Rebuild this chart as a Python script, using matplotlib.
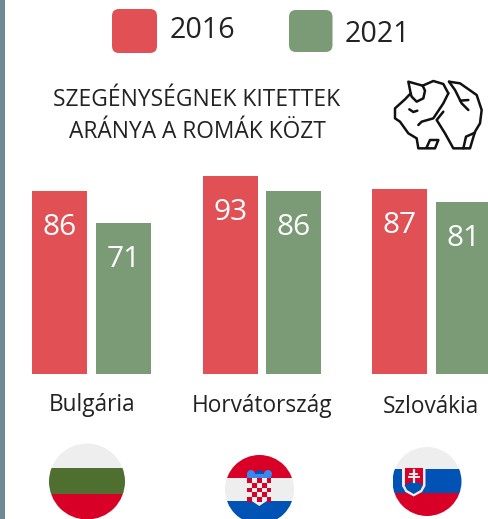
import matplotlib
matplotlib.use('Agg')
import matplotlib.pyplot as plt
from matplotlib.patches import Circle, FancyBboxPatch, Rectangle, Polygon

# Chart data
countries = ['Bulgária', 'Horvátország', 'Szlovákia']
values_2016 = [86, 93, 87]
values_2021 = [71, 86, 81]
series_names = ['2016', '2021']
title_lines = ['SZEGÉNYSÉGNEK KITETTEK', 'ARÁNYA A ROMÁK KÖZT']

RED = '#E15055'
GREEN = '#7A9B76'
TEXT = '#222222'
W, H = 489, 519

plt.rcParams['font.family'] = ['Open Sans', 'DejaVu Sans']

fig = plt.figure(figsize=(W / 100, H / 100), dpi=100)

# Pixel coordinate overlay for everything that isn't a bar
deco = fig.add_axes([0, 0, 1, 1])
deco.set_xlim(0, W)
deco.set_ylim(H, 0)
deco.axis('off')

# Bars, one data unit is about 2.128 px
ax = fig.add_axes([0, (H - 374) / H, 1, 212.8 / H])
ax.set_xlim(0, W)
ax.set_ylim(0, 100)
ax.axis('off')
ax.patch.set_alpha(0)

lefts_2016 = [32, 203, 372]
lefts_2021 = [96, 266, 436]
bar_w = 55
bars_a = ax.bar(lefts_2016, values_2016, width=bar_w, align='edge', color=RED)
bars_b = ax.bar(lefts_2021, values_2021, width=bar_w, align='edge', color=GREEN)
for bars in (bars_a, bars_b):
    ax.bar_label(bars, padding=-37, color='white', fontsize=21.5)

# Left strip
deco.add_patch(Rectangle((0, 0), 5, H, color='#6F8A92', lw=0))

# Legend
deco.add_patch(FancyBboxPatch((116, 13), 37, 36, boxstyle='round,pad=4,rounding_size=7', fc=RED, ec='none'))
deco.add_patch(FancyBboxPatch((293, 14), 35.5, 34, boxstyle='round,pad=4,rounding_size=7', fc=GREEN, ec='none'))
deco.text(170, 38, series_names[0], fontsize=20.6, color=TEXT, va='baseline')
deco.text(345, 42, series_names[1], fontsize=20.6, color=TEXT, va='baseline')

# Title
deco.text(197, 106, title_lines[0], fontsize=16.4, color=TEXT, ha='center', va='baseline')
deco.text(197, 138, title_lines[1], fontsize=16.4, color=TEXT, ha='center', va='baseline')

# Country names
for name, cx, base in zip(countries, [92.5, 262, 430.5], [411, 412, 413]):
    deco.text(cx, base, name, fontsize=16.3, color=TEXT, ha='center', va='baseline')


# Piggy bank icon, points taken from a 3x crop
def pig_line(points):
    xs = [380 + p[0] / 3 for p in points]
    ys = [70 + p[1] / 3 for p in points]
    deco.plot(xs, ys, color='#111111', lw=1.8, solid_joinstyle='round', solid_capstyle='round')


pig_line([(205, 70), (190, 42), (160, 33), (128, 47)])
pig_line([(128, 47), (85, 35), (92, 70), (75, 88), (45, 115), (45, 145), (60, 155), (85, 190), (110, 205),
          (115, 235), (165, 235), (175, 210), (150, 210), (140, 232)])
pig_line([(128, 47), (135, 62), (130, 85), (110, 95), (95, 80), (92, 70)])
pig_line([(88, 118), (100, 126), (112, 122)])
pig_line([(205, 70), (190, 100), (160, 145), (125, 155), (115, 165)])
pig_line([(207, 35), (240, 40), (290, 75), (305, 120), (300, 160), (285, 185), (270, 235), (220, 235),
          (195, 190), (170, 150), (190, 125)])
pig_line([(207, 35), (225, 60), (245, 100), (265, 120)])
pig_line([(240, 92), (265, 90)])
pig_line([(250, 235), (258, 200), (285, 188)])


# Round flags
def flag(cx, cy, r, bands):
    clip = Circle((cx, cy), r, transform=deco.transData)
    for top, bottom, color in bands:
        patch = Rectangle((cx - r, top), 2 * r, bottom - top, color=color, lw=0)
        deco.add_patch(patch)
        patch.set_clip_path(clip)


flag(87, 481.5, 38, [(440, 468, '#EEEEEE'), (468, 494.3, '#4E6F2F'), (494.3, 525, '#D80027')])
flag(259.5, 489.5, 34.5, [(450, 477.7, '#D80027'), (477.7, 500.7, '#EEEEEE'), (500.7, 530, '#0052B4')])
flag(427, 481.5, 34.5, [(440, 469.3, '#EEEEEE'), (469.3, 493.3, '#0052B4'), (493.3, 520, '#D80027')])

# Croatian crown and checkerboard
for cx in (251, 259.5, 268):
    deco.add_patch(Circle((cx, 474), 4, color='#338AF3' if cx != 259.5 else '#0052B4', lw=0))
deco.add_patch(Rectangle((247.3, 474), 24, 4, color='#338AF3', lw=0))
cell = 4.8
deco.add_patch(Polygon([(247.3, 478), (271.3, 478), (271.3, 498), (259.3, 506), (247.3, 498)], fc='#EEEEEE', ec='none'))
for row in range(6):
    for col in range(5):
        if (row + col) % 2 == 0:
            w = cell
            x = 247.3 + col * cell
            y = 478 + row * cell
            if row == 5 and col != 2:
                continue
            deco.add_patch(Rectangle((x, y), w, cell if row < 5 else 3, color='#D80027', lw=0))

# Slovak shield
deco.add_patch(Polygon([(402, 466), (425.5, 466), (425.5, 486), (422, 492), (413.7, 496.5), (405.5, 492), (402, 486)],
                       fc='#EEEEEE', ec='none'))
deco.add_patch(Polygon([(404.5, 467.5), (423, 467.5), (423, 485), (404.5, 485)], fc='#D80027', ec='none'))
deco.add_patch(Polygon([(404.5, 485), (409, 483), (413.7, 480.5), (418.5, 483), (423, 485), (420.5, 490),
                        (413.7, 494), (407, 490)], fc='#0052B4', ec='none'))
deco.plot([413.7, 413.7], [470, 482], color='#EEEEEE', lw=1.6)
deco.plot([410, 417.4], [473.5, 473.5], color='#EEEEEE', lw=1.4)
deco.plot([408.7, 418.7], [477, 477], color='#EEEEEE', lw=1.4)

fig.savefig('out.png', dpi=100)
plt.close(fig)
